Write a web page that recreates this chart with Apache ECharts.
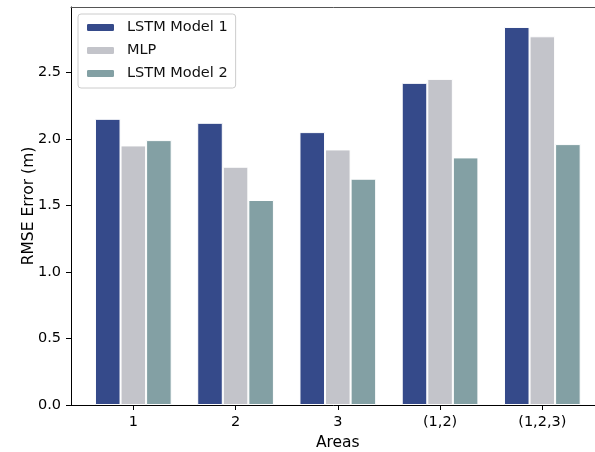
<!DOCTYPE html>
<html>
<head>
<meta charset="utf-8">
<script src="https://cdn.jsdelivr.net/npm/echarts@6/dist/echarts.min.js"></script>
<style>html,body{margin:0;padding:0;background:#fff}#c{width:595px;height:452px}</style>
</head>
<body>
<div id="c"></div>
<script>
var categories = ['1', '2', '3', '(1,2)', '(1,2,3)'];
var seriesNames = ['LSTM Model 1', 'MLP', 'LSTM Model 2'];
var lstm1 = [2.15, 2.12, 2.05, 2.42, 2.84];
var mlp = [1.95, 1.79, 1.92, 2.45, 2.77];
var lstm2 = [1.99, 1.54, 1.70, 1.86, 1.96];
var yTicks = [0, 0.5, 1.0, 1.5, 2.0, 2.5];
var yMax = 2.99;
var colors = ['#354a8a', '#c3c4ca', '#83a0a4'];

var font = 'DejaVu Sans';
var chart = echarts.init(document.getElementById('c'), null, {renderer: 'canvas'});
var values = [lstm1, mlp, lstm2];
var series = seriesNames.map(function (n, i) {
  return {
    name: n, type: 'bar', xAxisIndex: 2, yAxisIndex: 1,
    data: values[i], barWidth: '25%', barGap: '0%',
    itemStyle: {color: colors[i], borderColor: '#ffffff', borderWidth: 1},
    emphasis: {disabled: true}
  };
});
chart.setOption({
  animation: false,
  textStyle: {fontFamily: font},
  grid: [
    {left: 71, top: 7, width: 534, height: 398, outerBoundsMode: 'none', containLabel: false},
    {left: 82.2, top: 7, width: 511.25, height: 398, outerBoundsMode: 'none', containLabel: false}
  ],
  legend: {
    orient: 'vertical', left: 78, top: 14,
    itemWidth: 29, itemHeight: 9, itemGap: 6,
    padding: [5, 8, 6, 7],
    backgroundColor: '#fff', borderColor: '#cccccc', borderWidth: 1, borderRadius: 3,
    textStyle: {fontFamily: font, fontSize: 14.5, color: '#111', lineHeight: 17, padding: [0, 0, 0, 7]},
    data: seriesNames
  },
  xAxis: [
    {gridIndex: 0, type: 'value', min: 0, max: 1, position: 'bottom',
     axisLine: {show: true, lineStyle: {color: '#000', width: 1}},
     axisTick: {show: false}, axisLabel: {show: false}, splitLine: {show: false}},
    {gridIndex: 0, type: 'value', min: 0, max: 1, position: 'top',
     axisLine: {show: true, lineStyle: {color: '#555', width: 1}},
     axisTick: {show: false}, axisLabel: {show: false}, splitLine: {show: false}},
    {gridIndex: 1, type: 'category', data: categories, position: 'bottom',
     axisLine: {show: false},
     axisTick: {show: true, alignWithLabel: true, length: 5, lineStyle: {color: '#000'}},
     axisLabel: {fontFamily: font, fontSize: 14.5, color: '#000', margin: 10},
     splitLine: {show: false},
     name: 'Areas', nameLocation: 'middle', nameGap: 30, nameMoveOverlap: false,
     nameTextStyle: {fontFamily: font, fontSize: 15.5, color: '#000'}}
  ],
  yAxis: [
    {gridIndex: 0, type: 'value', min: 0, max: yMax, position: 'left',
     axisLine: {show: true, lineStyle: {color: '#000', width: 1}},
     axisTick: {show: true, length: 5, lineStyle: {color: '#000'}, customValues: yTicks},
     axisLabel: {fontFamily: font, fontSize: 14.5, color: '#000', margin: 10, customValues: yTicks,
                 formatter: function (v) { return v.toFixed(1); }},
     splitLine: {show: false},
     name: 'RMSE Error (m)', nameLocation: 'middle', nameGap: 34, nameRotate: 90, nameMoveOverlap: false,
     nameTextStyle: {fontFamily: font, fontSize: 15.5, color: '#000'}},
    {gridIndex: 1, type: 'value', min: 0, max: yMax, position: 'left',
     axisLine: {show: false}, axisTick: {show: false}, axisLabel: {show: false},
     splitLine: {show: false}, splitArea: {show: false}}
  ],
  series: series
});
</script>
</body>
</html>
